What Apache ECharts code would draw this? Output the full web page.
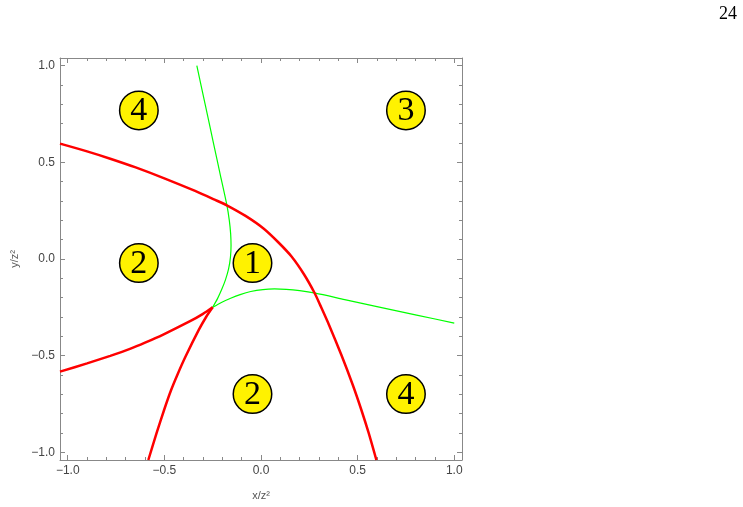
<!DOCTYPE html>
<html>
<head>
<meta charset="utf-8">
<script src="https://cdn.jsdelivr.net/npm/echarts@6/dist/echarts.min.js"></script>
<style>
  html, body { margin: 0; padding: 0; background: #fff; }
  #chart { width: 743px; height: 507px; }
</style>
</head>
<body>
<div id="chart"></div>
<script>
// thick red boundary, upper-left to lower-right
const redOuter = [
  [-1.04, 0.597], [-0.90, 0.557], [-0.78, 0.519], [-0.652, 0.475], [-0.497, 0.416],
  [-0.341, 0.352], [-0.24, 0.307], [-0.177, 0.278], [-0.08, 0.223], [0.013, 0.158],
  [0.088, 0.088], [0.158, 0.013], [0.223, -0.08], [0.278, -0.177], [0.307, -0.24],
  [0.352, -0.341], [0.416, -0.497], [0.475, -0.652], [0.519, -0.78], [0.557, -0.90],
  [0.597, -1.04]
];
// red cusp curve, two branches meeting at (-0.25, -0.25)
const redCuspUpper = [
  [-1.04, -0.583], [-0.90, -0.540], [-0.78, -0.501], [-0.678, -0.465], [-0.60, -0.433],
  [-0.506, -0.391], [-0.367, -0.322], [-0.30, -0.284], [-0.25, -0.25]
];
const redCuspLower = [
  [-0.25, -0.25], [-0.284, -0.30], [-0.322, -0.367], [-0.391, -0.506], [-0.433, -0.60],
  [-0.465, -0.678], [-0.501, -0.78], [-0.540, -0.90], [-0.583, -1.04]
];
// thin green curves
const greenUpper = [
  [-0.332, 1.0], [-0.29, 0.805], [-0.246, 0.60], [-0.21, 0.433], [-0.177, 0.281],
  [-0.164, 0.20], [-0.157, 0.13], [-0.155, 0.07], [-0.158, 0.01], [-0.168, -0.053],
  [-0.184, -0.108], [-0.203, -0.157], [-0.225, -0.205], [-0.25, -0.25]
];
const greenRight = [
  [-0.25, -0.25], [-0.205, -0.225], [-0.157, -0.203], [-0.108, -0.184], [-0.053, -0.168],
  [0.01, -0.158], [0.07, -0.155], [0.13, -0.157], [0.20, -0.164], [0.281, -0.177],
  [0.433, -0.21], [0.60, -0.246], [0.805, -0.29], [1.0, -0.332]
];
// region markers
const regionX = [-0.632, 0.75, -0.632, -0.044, -0.044, 0.75];
const regionY = [0.769, 0.769, -0.021, -0.021, -0.699, -0.699];
const regionLabels = ['4', '3', '2', '1', '2', '4'];
// ticks
const majorTicks = [-1.0, -0.5, 0.0, 0.5, 1.0];
const minorTicks = [-0.9, -0.8, -0.7, -0.6, -0.4, -0.3, -0.2, -0.1,
  0.1, 0.2, 0.3, 0.4, 0.6, 0.7, 0.8, 0.9];

const AX_MIN = -1.04, AX_MAX = 1.04;
const frameColor = '#888';

function fmt(v) {
  return (v < 0 ? '\u2212' : '') + Math.abs(v).toFixed(1);
}

function makeAxis(pos, kind, withName) {
  const major = kind === 'major';
  const labeled = major && (pos === 'bottom' || pos === 'left');
  const ax = {
    type: 'value', min: AX_MIN, max: AX_MAX, position: pos,
    axisLine: { show: major, onZero: false, lineStyle: { color: frameColor, width: 1 } },
    axisTick: {
      show: true, inside: true, length: major ? 5 : 3,
      customValues: major ? majorTicks : minorTicks,
      lineStyle: { color: frameColor, width: 1 }
    },
    axisLabel: {
      show: labeled, customValues: majorTicks, formatter: fmt,
      color: '#444', fontSize: 12, fontFamily: 'Liberation Sans', margin: 5
    },
    splitLine: { show: false }
  };
  if (withName) {
    ax.name = withName;
    ax.nameLocation = 'middle';
    ax.nameTextStyle = { color: '#555', fontSize: 11, fontFamily: 'Liberation Sans' };
  }
  return ax;
}

const xAxes = [
  Object.assign(makeAxis('bottom', 'major', 'x/z\u00b2'), { nameGap: 30 }),
  makeAxis('bottom', 'minor'),
  makeAxis('top', 'major'),
  makeAxis('top', 'minor')
];
const yAxes = [
  Object.assign(makeAxis('left', 'major', 'y/z\u00b2'), { nameGap: 36 }),
  makeAxis('left', 'minor'),
  makeAxis('right', 'major'),
  makeAxis('right', 'minor')
];

function curve(data, color, width) {
  return {
    type: 'line', data: data, showSymbol: false, smooth: 0.25,
    lineStyle: { color: color, width: width }, silent: true, z: width > 2 ? 3 : 2
  };
}

const chart = echarts.init(document.getElementById('chart'), null, { renderer: 'canvas' });

chart.setOption({
  animation: false,
  backgroundColor: '#fff',
  grid: { left: 60, top: 58, width: 402, height: 402 },
  xAxis: xAxes,
  yAxis: yAxes,
  graphic: [{
    type: 'text', right: 6, top: 5,
    style: { text: '24', font: '18px "Liberation Serif"', fill: '#000' }
  }],
  series: [
    curve(greenUpper, '#00ff00', 1.2),
    curve(greenRight, '#00ff00', 1.2),
    curve(redOuter, '#ff0000', 2.5),
    curve(redCuspUpper, '#ff0000', 2.5),
    curve(redCuspLower, '#ff0000', 2.5),
    {
      type: 'scatter', symbol: 'circle', symbolSize: 38.5, z: 5,
      data: regionX.map((x, i) => ({ value: [x, regionY[i]], name: regionLabels[i] })),
      itemStyle: { color: '#fff200', borderColor: '#000', borderWidth: 1.5, opacity: 1 },
      label: {
        show: true, position: 'inside', formatter: p => p.name,
        color: '#000', fontSize: 34, fontFamily: 'Liberation Serif', offset: [0, 1]
      }
    }
  ]
});
</script>
</body>
</html>
